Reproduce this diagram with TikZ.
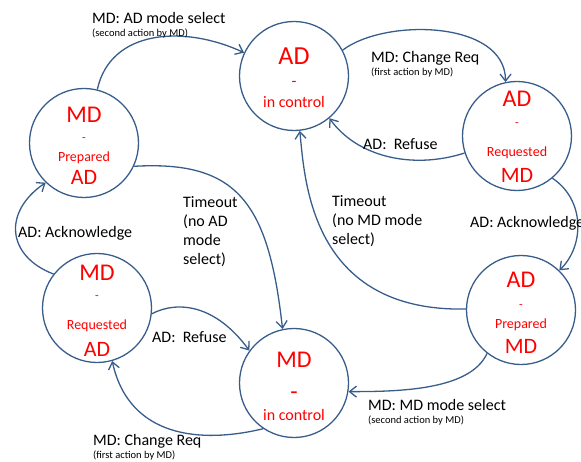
\documentclass[tikz,border=0pt]{standalone}
\usepackage{fontspec}
\setmainfont{Carlito}
\usetikzlibrary{arrows.meta}
\definecolor{edgeblue}{RGB}{56,93,138}
\definecolor{stred}{RGB}{255,0,0}
\tikzset{
  state/.style={circle, draw=edgeblue, line width=1.3pt, minimum size=109pt, inner sep=0pt},
  trans/.style={draw=edgeblue, line width=1.3pt, -{Straight Barb[length=7pt,width=11pt]}},
  big/.style={text=stred, anchor=base, inner sep=0pt, font=\fontsize{24}{28}\selectfont},
  mid/.style={text=stred, anchor=base, inner sep=0pt, font=\fontsize{16}{19}\selectfont},
  sml/.style={text=stred, anchor=base, inner sep=0pt, font=\fontsize{14}{17}\selectfont},
  dsh/.style={text=stred, anchor=base, inner sep=0pt, font=\fontsize{12}{14}\selectfont},
  lbl/.style={anchor=base west, inner sep=0pt, font=\fontsize{16}{19}\selectfont},
  note/.style={anchor=base west, inner sep=0pt, font=\fontsize{10.5}{12}\selectfont},
}
\begin{document}
\begin{tikzpicture}[x=1pt,y=-1pt]
\path[use as bounding box] (0,0) rectangle (581,462);
% states
\node[state] (c1) at (294,76) {};
\node[state] (c2) at (517,136) {};
\node[state] (c3) at (84,143) {};
\node[state] (c4) at (97,308) {};
\node[state] (c5) at (294,383) {};
\node[state] (c6) at (521,310) {};
% texts c1
\node[big, font=\fontsize{26}{30}\selectfont] (c1a) at (294,65) {AD};
\node[mid] (c1b) at (294,86.5) {-};
\node[mid] (c1c) at (294,108) {in control};
% c2
\node[big] (c2a) at (517,107) {AD};
\node[dsh] (c2b) at (517,126.4) {-};
\node[sml] (c2c) at (517,157) {Requested};
\node[big, font=\fontsize{22}{26}\selectfont] (c2d) at (517,183) {MD};
% c3
\node[big] (c3a) at (84,123) {MD};
\node[dsh] (c3b) at (84,141.4) {-};
\node[sml] (c3c) at (84,161.7) {Prepared};
\node[big, font=\fontsize{22}{26}\selectfont] (c3d) at (84,185) {AD};
% c4
\node[big] (c4a) at (97,280.7) {MD};
\node[dsh] (c4b) at (97,300) {-};
\node[sml] (c4c) at (97,330) {Requested};
\node[big, font=\fontsize{22}{26}\selectfont] (c4d) at (97,356) {AD};
% c5
\node[big] (c5a) at (294,367) {MD};
\node[big] (c5b) at (294,399) {-};
\node[mid] (c5c) at (294,420) {in control};
% c6
\node[big] (c6a) at (521,288) {AD};
\node[dsh] (c6b) at (521,308.4) {-};
\node[sml] (c6c) at (521,329) {Prepared};
\node[big, font=\fontsize{22}{26}\selectfont] (c6d) at (521,353) {MD};
% transitions
\draw[trans] (c3.76) .. controls +(13,-60) and +(-60,-28) .. (c1.155);
\draw[trans] (c1.28) .. controls +(42,-32) and +(0,-62) .. (c2.102);
\draw[trans] (c2.198) .. controls +(-53,17) and +(27,38) .. (c1.310);
\draw[trans] (c2.310) .. controls +(33,22) and +(25,-24) .. (c6.46);
\draw[trans] (c6.179) .. controls +(-156,3) and +(5,48) .. (c1.276);
\draw[trans] (c6.232) .. controls +(-17,37) and +(50,0) .. (c5.351);
\draw[trans] (c5.236) .. controls +(-62,15) and +(17,77) .. (c4.286);
\draw[trans] (c4.354) .. controls +(27,-14) and +(-33,-45) .. (c5.144);
\draw[trans] (c4.142) .. controls +(-47,-18) and +(-43,29) .. (c3.226);
\draw[trans] (c3.335) .. controls +(103,-6) and +(-14,-127) .. (c5.102);
% labels
\node[lbl] (l1) at (92,24) {MD: AD mode select};
\node[note] (l1s) at (92,37) {(second action by MD)};
\node[lbl] (l2) at (371,63) {MD: Change Req};
\node[note] (l2s) at (371,76) {(first action by MD)};
\node[lbl] (l3) at (363,150) {AD:\ \ Refuse};
\node[lbl] (l4) at (470,228) {AD: Acknowledge};
\node[lbl] (l5a) at (332,207) {Timeout};
\node[lbl] (l5b) at (332,226) {(no MD mode};
\node[lbl] (l5c) at (332,245) {select)};
\node[lbl] (l6) at (368,410) {MD: MD mode select};
\node[note] (l6s) at (368,423) {(second action by MD)};
\node[lbl] (l7) at (93,445) {MD: Change Req};
\node[note] (l7s) at (93,458) {(first action by MD)};
\node[lbl] (l8) at (152,342) {AD:\ \ Refuse};
\node[lbl] (l9) at (18,238) {AD: Acknowledge};
\node[lbl] (l10a) at (183,208) {Timeout};
\node[lbl] (l10b) at (183,227) {(no AD};
\node[lbl] (l10c) at (183,246) {mode};
\node[lbl] (l10d) at (183,265) {select)};
\end{tikzpicture}
\end{document}
